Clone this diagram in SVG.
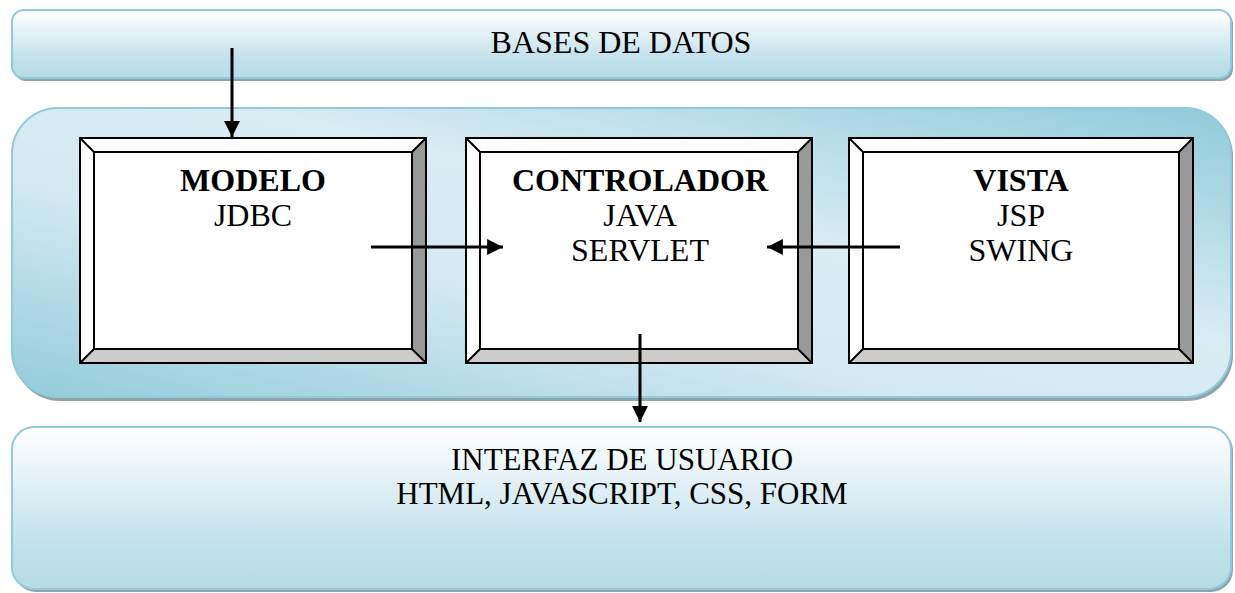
<svg xmlns="http://www.w3.org/2000/svg" width="1235" height="593" viewBox="0 0 1235 593">
<defs>
<linearGradient id="gv" x1="0" y1="0" x2="0" y2="1">
<stop offset="0" stop-color="#ffffff"/>
<stop offset="0.75" stop-color="#bfe0ea"/>
<stop offset="1" stop-color="#b6dbe6"/>
</linearGradient>
<linearGradient id="gd" x1="0" y1="1" x2="1" y2="0">
<stop offset="0" stop-color="#93cbdb"/>
<stop offset="0.38" stop-color="#d4eaf1"/>
<stop offset="0.6" stop-color="#d8ecf2"/>
<stop offset="1" stop-color="#8fcadb"/>
</linearGradient>
<marker id="ah" viewBox="0 0 10 10" refX="10" refY="5" markerWidth="5.3" markerHeight="5.3" markerUnits="strokeWidth" orient="auto">
<path d="M0,0 L10,5 L0,10 Z" fill="#000"/>
</marker>
<style>
.band{stroke:#8ecbdc;stroke-width:2}
.shadow{fill:#8fa4ab}
.txt{font-family:"Liberation Serif","Times New Roman",serif;font-size:32px;fill:#000;text-anchor:middle}
.sm{font-size:31px}
.b{font-weight:bold}
.edge{stroke:#000;stroke-width:2}
.conn{stroke:#000;stroke-width:3;fill:none;marker-end:url(#ah)}
</style>
</defs>

<g id="bases-datos">
<rect class="shadow" x="14" y="12" width="1219" height="69" rx="12"/>
<rect class="band" x="12" y="10" width="1219" height="68" rx="12" fill="url(#gv)"/>
<text class="txt" x="621" y="53">BASES DE DATOS</text>
</g>

<g id="capa-mvc">
<rect class="shadow" x="14" y="110" width="1219" height="291" rx="46"/>
<rect class="band" x="12" y="108" width="1219" height="289" rx="46" fill="url(#gd)"/>
</g>

<g id="interfaz">
<rect class="shadow" x="14" y="429" width="1219" height="163" rx="22"/>
<rect class="band" x="12" y="427" width="1219" height="162" rx="22" fill="url(#gv)"/>
<text class="txt sm" x="622" y="470">INTERFAZ DE USUARIO</text>
<text class="txt sm" x="622" y="504">HTML, JAVASCRIPT, CSS, FORM</text>
</g>

<g id="modelo">
<rect x="80" y="138" width="346" height="225" fill="#fff" stroke="#000" stroke-width="2"/>
<polygon points="426,138 412,152 412,349 426,363" fill="#999"/>
<polygon points="80,363 94,349 412,349 426,363" fill="#ccc"/>
<rect x="94" y="152" width="318" height="197" fill="#fff" stroke="#000" stroke-width="2"/>
<path class="edge" d="M80,138 L94,152 M426,138 L412,152 M80,363 L94,349 M426,363 L412,349"/>
<rect x="80" y="138" width="346" height="225" fill="none" stroke="#000" stroke-width="2"/>
<text class="txt b" x="253" y="191">MODELO</text>
<text class="txt" x="253" y="226">JDBC</text>
</g>

<g id="controlador">
<rect x="466" y="138" width="346" height="225" fill="#fff" stroke="#000" stroke-width="2"/>
<polygon points="812,138 798,152 798,349 812,363" fill="#999"/>
<polygon points="466,363 480,349 798,349 812,363" fill="#ccc"/>
<rect x="480" y="152" width="318" height="197" fill="#fff" stroke="#000" stroke-width="2"/>
<path class="edge" d="M466,138 L480,152 M812,138 L798,152 M466,363 L480,349 M812,363 L798,349"/>
<rect x="466" y="138" width="346" height="225" fill="none" stroke="#000" stroke-width="2"/>
<text class="txt b" x="640" y="191">CONTROLADOR</text>
<text class="txt" x="640" y="226">JAVA</text>
<text class="txt" x="640" y="261">SERVLET</text>
</g>

<g id="vista">
<rect x="849" y="138" width="344" height="225" fill="#fff" stroke="#000" stroke-width="2"/>
<polygon points="1193,138 1179,152 1179,349 1193,363" fill="#999"/>
<polygon points="849,363 863,349 1179,349 1193,363" fill="#ccc"/>
<rect x="863" y="152" width="316" height="197" fill="#fff" stroke="#000" stroke-width="2"/>
<path class="edge" d="M849,138 L863,152 M1193,138 L1179,152 M849,363 L863,349 M1193,363 L1179,349"/>
<rect x="849" y="138" width="344" height="225" fill="none" stroke="#000" stroke-width="2"/>
<text class="txt b" x="1021" y="191">VISTA</text>
<text class="txt" x="1021" y="226">JSP</text>
<text class="txt" x="1021" y="261">SWING</text>
</g>

<g id="connectors">
<line class="conn" x1="232" y1="48" x2="232" y2="137"/>
<line class="conn" x1="371" y1="247" x2="503" y2="247"/>
<line class="conn" x1="900" y1="247" x2="767" y2="247"/>
<line class="conn" x1="640" y1="334" x2="640" y2="422"/>
</g>
</svg>
